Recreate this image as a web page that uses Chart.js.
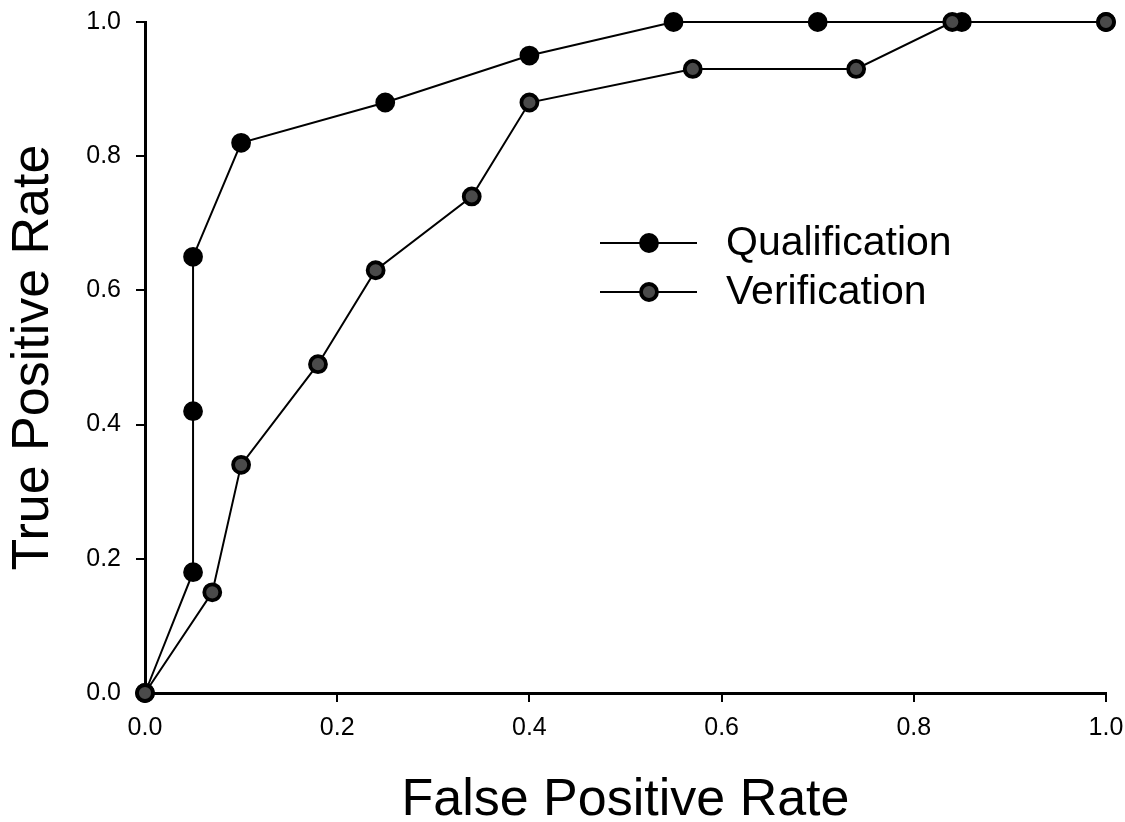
<!DOCTYPE html>
<html>
<head>
<meta charset="utf-8">
<script src="https://cdn.jsdelivr.net/npm/chart.js"></script>
<style>
  html, body { margin: 0; padding: 0; background: #fff; }
  #roc { display: block; }
</style>
</head>
<body>
<canvas id="roc" width="1125" height="822"></canvas>
<script>
const seriesNames = ['Qualification', 'Verification'];
const qualFPR = [0, 0.05, 0.05, 0.05, 0.10, 0.25, 0.40, 0.55, 0.70, 0.85, 1.00];
const qualTPR = [0, 0.18, 0.42, 0.65, 0.82, 0.88, 0.95, 1.00, 1.00, 1.00, 1.00];
const verFPR = [0, 0.07, 0.10, 0.18, 0.24, 0.34, 0.40, 0.57, 0.74, 0.84, 1.00];
const verTPR = [0, 0.15, 0.34, 0.49, 0.63, 0.74, 0.88, 0.93, 0.93, 1.00, 1.00];
const axisTicks = [0, 0.2, 0.4, 0.6, 0.8, 1.0];

const toPoints = (xs, ys) => xs.map((x, i) => ({ x: x, y: ys[i] }));

// legend drawn inside the plot, line + marker like the original
const insideLegend = {
  id: 'insideLegend',
  afterDraw(chart) {
    const ctx = chart.ctx;
    const rows = [243, 292];
    ctx.save();
    seriesNames.forEach((name, i) => {
      const ds = chart.data.datasets.find(d => d.label === name);
      const y = rows[i];
      ctx.strokeStyle = '#000';
      ctx.lineWidth = 2;
      ctx.beginPath();
      ctx.moveTo(600, y);
      ctx.lineTo(697, y);
      ctx.stroke();
      ctx.beginPath();
      ctx.arc(649, y, ds.pointRadius, 0, Math.PI * 2);
      ctx.fillStyle = ds.pointBackgroundColor;
      ctx.fill();
      ctx.lineWidth = ds.pointBorderWidth;
      ctx.stroke();
      ctx.fillStyle = '#000';
      ctx.font = '41px "Liberation Sans", Arial, sans-serif';
      ctx.textBaseline = 'middle';
      ctx.fillText(ds.label, 726, y + 1);
    });
    ctx.restore();
  }
};

function axisOptions(title, isX) {
  return {
    type: 'linear',
    min: 0,
    max: 1,
    afterBuildTicks: scale => { scale.ticks = axisTicks.map(v => ({ value: v })); },
    afterFit: scale => {
      if (isX) scale.height = 129;
      else scale.width = 145;
      scale.paddingTop = 0;
      scale.paddingBottom = 0;
      scale.paddingLeft = 0;
      scale.paddingRight = 0;
    },
    border: { display: true, color: '#000', width: 3 },
    grid: {
      display: true,
      drawOnChartArea: false,
      drawTicks: true,
      tickLength: 9,
      color: '#000',
      lineWidth: 2
    },
    ticks: {
      color: '#000',
      padding: isX ? 11 : 15,
      font: { family: '"Liberation Sans", Arial, sans-serif', size: 25 },
      callback: v => Number(v).toFixed(1)
    },
    title: {
      display: true,
      text: title,
      color: '#000',
      font: { family: '"Liberation Sans", Arial, sans-serif', size: 52, lineHeight: isX ? 0.84 : 1 },
      padding: isX ? { top: 0, bottom: 0 } : { top: 8, bottom: 0 }
    }
  };
}

new Chart(document.getElementById('roc'), {
  type: 'scatter',
  data: {
    datasets: [
      {
        label: seriesNames[1],
        data: toPoints(verFPR, verTPR),
        showLine: true,
        borderColor: '#000',
        borderWidth: 2,
        pointRadius: 8,
        pointBorderWidth: 3.8,
        pointBorderColor: '#000',
        pointBackgroundColor: '#4a4a4a',
        clip: false,
        order: 0
      },
      {
        label: seriesNames[0],
        data: toPoints(qualFPR, qualTPR),
        showLine: true,
        borderColor: '#000',
        borderWidth: 2,
        pointRadius: 8,
        pointBorderWidth: 3.8,
        pointBorderColor: '#000',
        pointBackgroundColor: '#000',
        clip: false,
        order: 1
      }
    ]
  },
  options: {
    responsive: false,
    animation: false,
    layout: { padding: { top: 22, right: 19, left: 0, bottom: 0 } },
    plugins: {
      legend: { display: false },
      tooltip: { enabled: false }
    },
    scales: {
      x: axisOptions('False Positive Rate', true),
      y: axisOptions('True Positive Rate', false)
    }
  },
  plugins: [insideLegend]
});
</script>
</body>
</html>
